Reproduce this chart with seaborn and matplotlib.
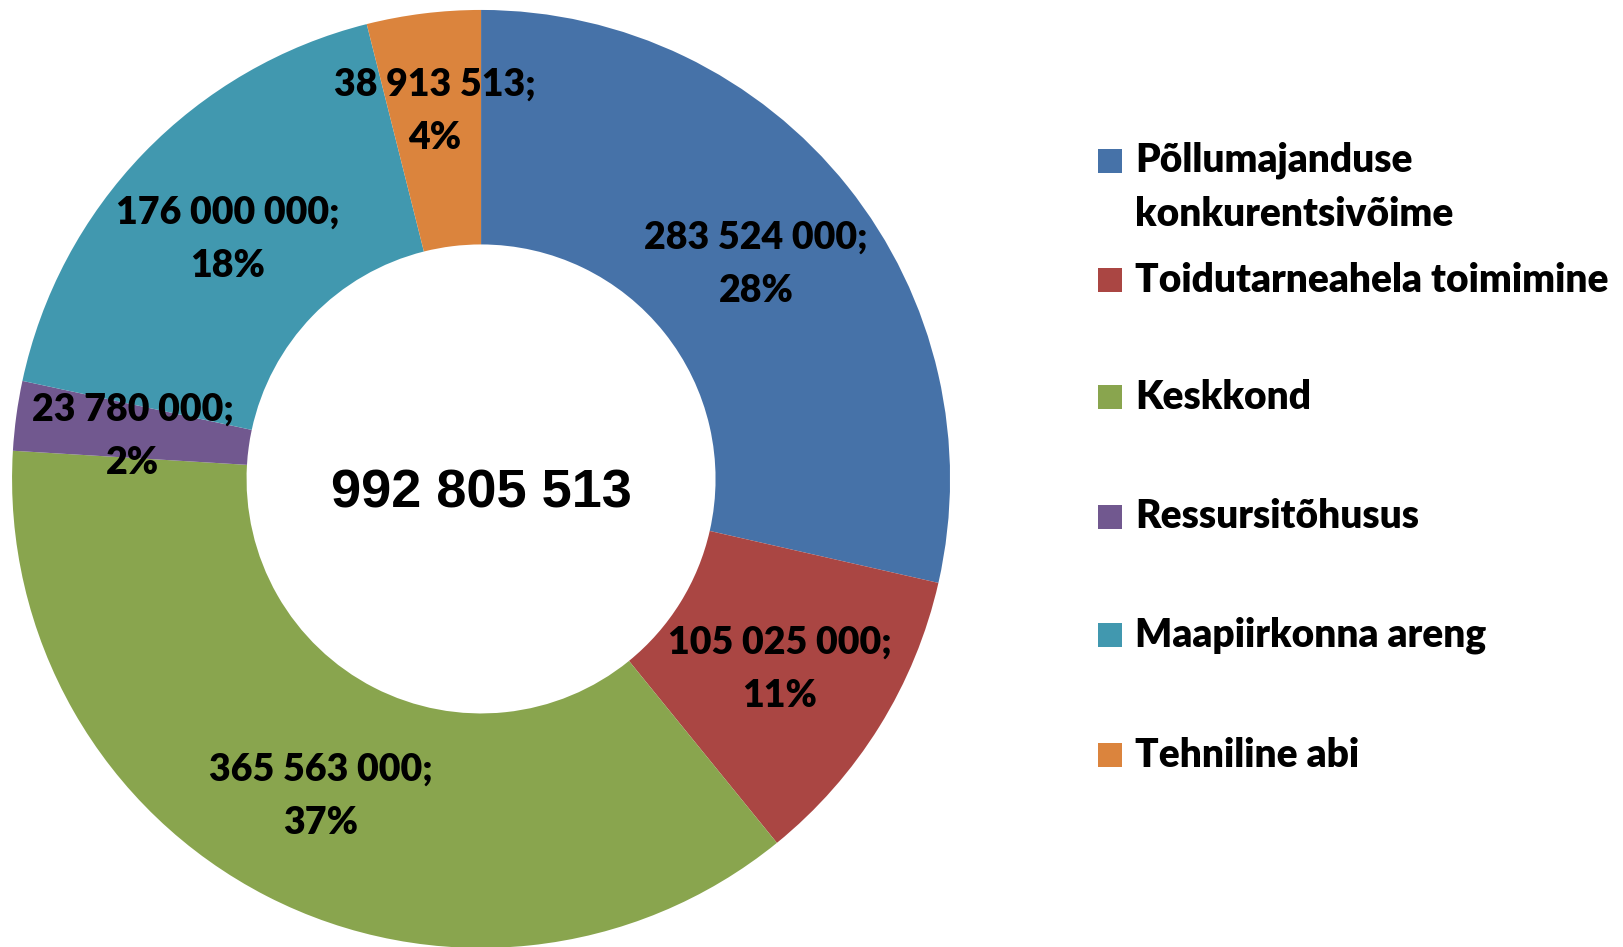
import matplotlib
matplotlib.use("Agg")
import matplotlib.pyplot as plt
from matplotlib.patches import Rectangle
import numpy as np
import seaborn as sns

categories = [
    "Põllumajanduse\nkonkurentsivõime",
    "Toidutarneahela toimimine",
    "Keskkond",
    "Ressursitõhusus",
    "Maapiirkonna areng",
    "Tehniline abi",
]
values = [283524000, 105025000, 365563000, 23780000, 176000000, 38913513]
pct_labels = ["28%", "11%", "37%", "2%", "18%", "4%"]
colors = ["#4672A8", "#AA4643", "#89A54E", "#71588F", "#4198AF", "#DB843D"]


def fmt(v: int) -> str:
    return f"{v:,}".replace(",", " ")


sns.set_theme(style="white")
plt.rcParams["font.family"] = ["Lato", "DejaVu Sans"]
plt.rcParams["text.color"] = "black"

fig = plt.figure(figsize=(16.23, 9.47), dpi=100)
ax = fig.add_axes([0.0074, -0.001, 0.578, 0.9905])
palette = sns.color_palette(colors)

wedges, _ = ax.pie(
    values,
    colors=palette,
    startangle=90,
    counterclock=False,
    radius=1.0,
    wedgeprops=dict(width=0.5, linewidth=0),
)
for w, v, p in zip(wedges, values, pct_labels):
    mid = np.deg2rad((w.theta1 + w.theta2) / 2)
    # small slices get pushed a bit outward, like the original
    r = 0.80 if (w.theta2 - w.theta1) < 20 and np.sin(mid) > 0.9 else 0.75
    ax.text(r * np.cos(mid), r * np.sin(mid) - 0.01, f"{fmt(v)};\n{p}",
            ha="center", va="center", fontsize=27, fontweight="heavy",
            linespacing=1.68, color="black")

ax.text(0, -0.03, fmt(sum(values)), ha="center", va="center", fontsize=39,
        fontweight="bold", color="black", family=["Liberation Sans", "DejaVu Sans"])
ax.set_xlim(-1, 1)
ax.set_ylim(-1, 1)
ax.set_aspect("equal")
ax.axis("off")

# legend drawn by hand: Excel spacing is not uniform
W, H = 1623, 947
legend_y = [161, 280, 397, 517, 635, 755]
for label, c, y in zip(categories, colors, legend_y):
    fig.patches.append(Rectangle((1098 / W, (H - y - 12) / H), 24 / W, 24 / H,
                                 transform=fig.transFigure, facecolor=c,
                                 edgecolor="none"))
    yc = y + 26 if "\n" in label else y
    fig.text(1135 / W, (H - yc) / H, label, ha="left", va="center",
             fontsize=28, fontweight="heavy", linespacing=1.55, color="black",
             transform=fig.transFigure)

fig.savefig("out.png", dpi=100)
